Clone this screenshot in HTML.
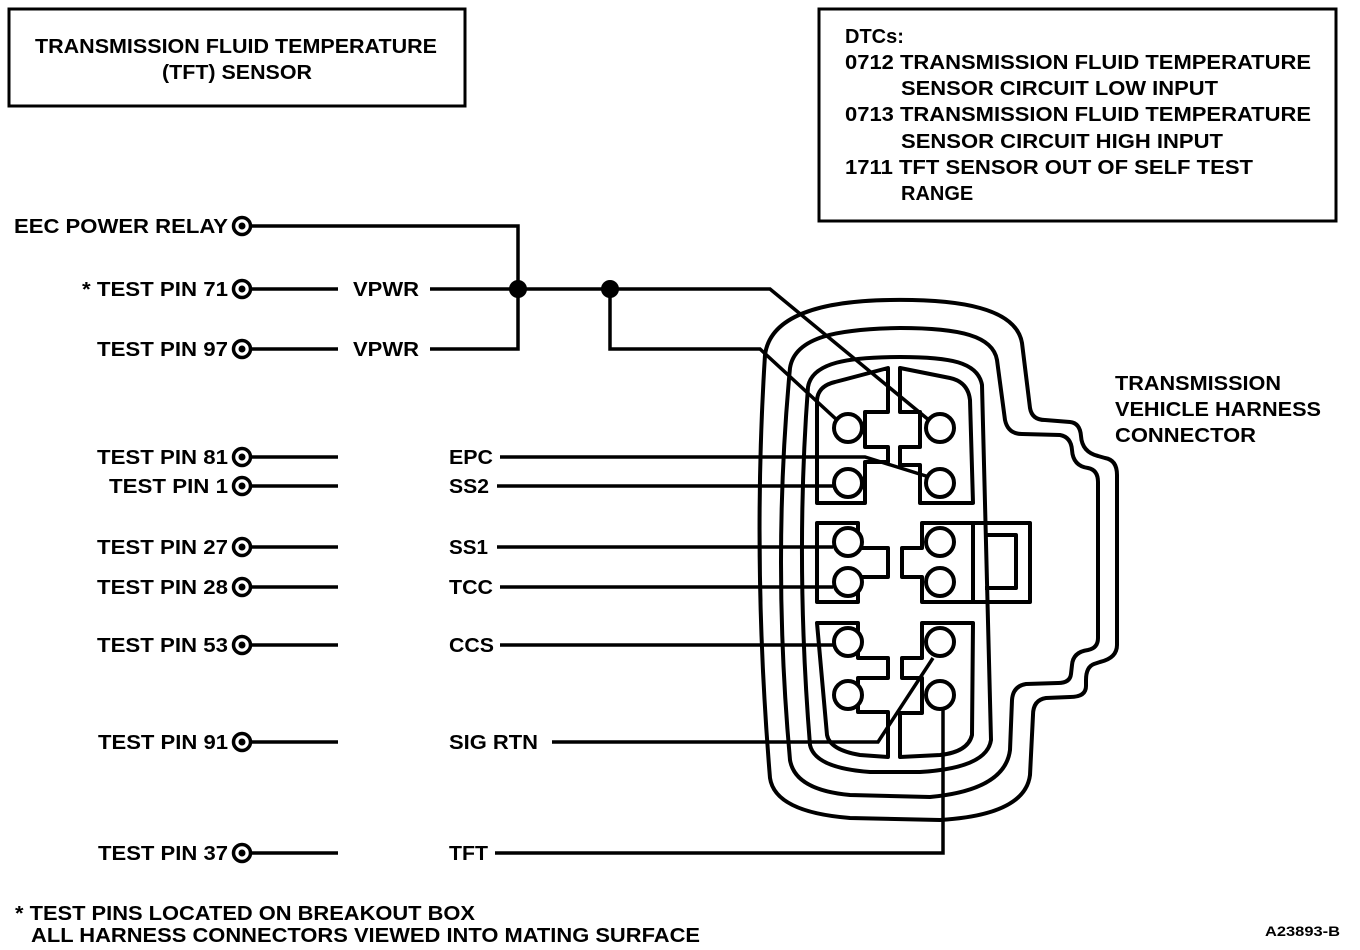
<!DOCTYPE html>
<html><head><meta charset="utf-8"><style>
html,body{margin:0;padding:0;background:#fff;}
svg{display:block;}
text{font-family:"Liberation Sans",Arial,sans-serif;font-weight:bold;fill:#000;}
</style></head><body>
<svg width="1360" height="950" viewBox="0 0 1360 950" xmlns="http://www.w3.org/2000/svg">
<rect width="1360" height="950" fill="#fff"/>
<!-- title box -->
<rect x="9" y="9" width="456" height="97" fill="none" stroke="#000" stroke-width="3"/>
<text x="236" y="53" font-size="20" text-anchor="middle" textLength="402" lengthAdjust="spacingAndGlyphs">TRANSMISSION FLUID TEMPERATURE</text>
<text x="237" y="79" font-size="20" text-anchor="middle" textLength="150" lengthAdjust="spacingAndGlyphs">(TFT) SENSOR</text>
<!-- DTC box -->
<rect x="819" y="9" width="517" height="212" fill="none" stroke="#000" stroke-width="3"/>
<g font-size="20">
<text x="845" y="43">DTCs:</text>
<text x="845" y="69" textLength="466" lengthAdjust="spacingAndGlyphs">0712 TRANSMISSION FLUID TEMPERATURE</text>
<text x="901" y="95" textLength="317" lengthAdjust="spacingAndGlyphs">SENSOR CIRCUIT LOW INPUT</text>
<text x="845" y="121" textLength="466" lengthAdjust="spacingAndGlyphs">0713 TRANSMISSION FLUID TEMPERATURE</text>
<text x="901" y="148" textLength="322" lengthAdjust="spacingAndGlyphs">SENSOR CIRCUIT HIGH INPUT</text>
<text x="845" y="174" textLength="408" lengthAdjust="spacingAndGlyphs">1711 TFT SENSOR OUT OF SELF TEST</text>
<text x="901" y="200">RANGE</text>
</g>
<!-- right label -->
<g font-size="20">
<text x="1115" y="390" textLength="166" lengthAdjust="spacingAndGlyphs">TRANSMISSION</text>
<text x="1115" y="416" textLength="206" lengthAdjust="spacingAndGlyphs">VEHICLE HARNESS</text>
<text x="1115" y="442" textLength="141" lengthAdjust="spacingAndGlyphs">CONNECTOR</text>
</g>
<!-- left labels -->
<g font-size="20" text-anchor="end">
<text x="228" y="233" textLength="214" lengthAdjust="spacingAndGlyphs">EEC POWER RELAY</text>
<text x="228" y="296" textLength="146" lengthAdjust="spacingAndGlyphs">* TEST PIN 71</text>
<text x="228" y="356" textLength="131" lengthAdjust="spacingAndGlyphs">TEST PIN 97</text>
<text x="228" y="464" textLength="131" lengthAdjust="spacingAndGlyphs">TEST PIN 81</text>
<text x="228" y="493" textLength="119" lengthAdjust="spacingAndGlyphs">TEST PIN 1</text>
<text x="228" y="554" textLength="131" lengthAdjust="spacingAndGlyphs">TEST PIN 27</text>
<text x="228" y="594" textLength="131" lengthAdjust="spacingAndGlyphs">TEST PIN 28</text>
<text x="228" y="652" textLength="131" lengthAdjust="spacingAndGlyphs">TEST PIN 53</text>
<text x="228" y="749" textLength="130" lengthAdjust="spacingAndGlyphs">TEST PIN 91</text>
<text x="228" y="860" textLength="130" lengthAdjust="spacingAndGlyphs">TEST PIN 37</text>
</g>
<!-- wire labels -->
<g font-size="20">
<text x="353" y="296" textLength="66" lengthAdjust="spacingAndGlyphs">VPWR</text>
<text x="353" y="356" textLength="66" lengthAdjust="spacingAndGlyphs">VPWR</text>
<text x="449" y="464" textLength="44" lengthAdjust="spacingAndGlyphs">EPC</text>
<text x="449" y="493" textLength="40" lengthAdjust="spacingAndGlyphs">SS2</text>
<text x="449" y="554" textLength="39" lengthAdjust="spacingAndGlyphs">SS1</text>
<text x="449" y="594" textLength="44" lengthAdjust="spacingAndGlyphs">TCC</text>
<text x="449" y="652" textLength="45" lengthAdjust="spacingAndGlyphs">CCS</text>
<text x="449" y="749" textLength="89" lengthAdjust="spacingAndGlyphs">SIG RTN</text>
<text x="449" y="860" textLength="39" lengthAdjust="spacingAndGlyphs">TFT</text>
</g>
<!-- footer -->
<g font-size="20">
<text x="15" y="920" textLength="460" lengthAdjust="spacingAndGlyphs">* TEST PINS LOCATED ON BREAKOUT BOX</text>
<text x="31" y="942" textLength="669" lengthAdjust="spacingAndGlyphs">ALL HARNESS CONNECTORS VIEWED INTO MATING SURFACE</text>
</g>
<text x="1265" y="936" font-size="14" textLength="75" lengthAdjust="spacingAndGlyphs">A23893-B</text>

<!-- pins -->
<g fill="none" stroke="#000" stroke-width="3.5">
<circle cx="242" cy="226" r="8.5"/><circle cx="242" cy="289" r="8.5"/><circle cx="242" cy="349" r="8.5"/>
<circle cx="242" cy="457" r="8.5"/><circle cx="242" cy="486" r="8.5"/><circle cx="242" cy="547" r="8.5"/>
<circle cx="242" cy="587" r="8.5"/><circle cx="242" cy="645" r="8.5"/><circle cx="242" cy="742" r="8.5"/>
<circle cx="242" cy="853" r="8.5"/>
</g>
<g fill="#000">
<circle cx="242" cy="226" r="3.5"/><circle cx="242" cy="289" r="3.5"/><circle cx="242" cy="349" r="3.5"/>
<circle cx="242" cy="457" r="3.5"/><circle cx="242" cy="486" r="3.5"/><circle cx="242" cy="547" r="3.5"/>
<circle cx="242" cy="587" r="3.5"/><circle cx="242" cy="645" r="3.5"/><circle cx="242" cy="742" r="3.5"/>
<circle cx="242" cy="853" r="3.5"/>
<circle cx="518" cy="289" r="9"/><circle cx="610" cy="289" r="9"/>
</g>

<!-- wires -->
<g fill="none" stroke="#000" stroke-width="3.5" stroke-linejoin="miter">
<path d="M251,226 H518 V349 H430"/>
<path d="M251,289 H338 M430,289 H770 L930,421"/>
<path d="M251,349 H338"/>
<path d="M610,289 V349 H760 L837,420"/>
<path d="M251,457 H338 M500,457 H865 L926,476"/>
<path d="M251,486 H338 M497,486 H833"/>
<path d="M251,547 H338 M497,547 H833"/>
<path d="M251,587 H338 M500,587 H833"/>
<path d="M251,645 H338 M500,645 H833"/>
<path d="M251,742 H338 M552,742 H878 L933,658"/>
<path d="M251,853 H338 M495,853 H943 V710"/>
</g>

<!-- connector shells -->
<g fill="none" stroke="#000" stroke-width="4" stroke-linejoin="round">
<path d="M765,355 C770,316 820,301 890,300 C960,299 1016,308 1022,343 L1030,408 Q1032,420 1045,420 L1070,422 Q1080,423 1081,436 Q1082,452 1098,456 L1105,458 Q1117,460 1117,475 L1117,645 Q1117,658 1100,662 L1094,664 Q1086,667 1086,680 L1086,686 Q1086,697 1070,697 L1046,698 Q1033,700 1033,715 L1030,775 Q1025,815 940,820 L850,818 Q775,812 770,778 Q752,560 765,355 Z"/>
<path d="M790,368 C795,336 840,329 900,328 C960,328 993,336 997,360 L1005,420 Q1008,434 1022,434 L1060,435 Q1071,437 1072,450 Q1073,466 1088,468 Q1098,470 1098,482 L1098,638 Q1098,648 1088,650 Q1073,652 1072,665 L1071,674 Q1070,683 1058,683 L1026,684 Q1013,686 1012,700 L1010,750 Q1005,790 930,797 L850,795 Q795,790 790,760 Q772,560 790,368 Z"/>
<path d="M808,387 C812,362 850,357 900,357 C950,357 978,362 982,385 L991,740 Q987,768 920,772 L870,772 Q815,768 810,745 Q795,560 808,387 Z"/>
<!-- blocks -->
<path d="M817,503 L817,400 Q818,386 835,382 L888,368 L888,412 L865,412 L865,447 L888,447 L888,462 L865,462 L865,503 Z"/>
<path d="M900,368 L950,378 Q968,382 970,400 L973,503 L920,503 L920,465 L900,465 L900,447 L920,447 L920,412 L900,412 Z"/>
<path d="M817,523 L858,523 L858,548 L888,548 L888,577 L858,577 L858,602 L817,602 Z"/>
<path d="M922,523 L973,523 L973,602 L922,602 L922,577 L902,577 L902,548 L922,548 Z"/>
<path d="M817,623 L858,623 L858,658 L888,658 L888,678 L858,678 L858,712 L888,712 L888,757 L860,755 Q830,750 827,735 Z"/>
<path d="M922,623 L973,623 L972,735 Q968,752 940,755 L900,757 L900,713 L922,713 L922,678 L902,678 L902,658 L922,658 Z"/>
<!-- latch -->
<path d="M973,523 H1030 V602 H973"/>
<path d="M985,535 H1016 V588 H985"/>
</g>
<!-- pin cavities -->
<g fill="#fff" stroke="#000" stroke-width="4">
<circle cx="848" cy="428" r="14"/><circle cx="848" cy="483" r="14"/>
<circle cx="940" cy="428" r="14"/><circle cx="940" cy="483" r="14"/>
<circle cx="848" cy="542" r="14"/><circle cx="848" cy="582" r="14"/>
<circle cx="940" cy="542" r="14"/><circle cx="940" cy="582" r="14"/>
<circle cx="848" cy="642" r="14"/><circle cx="848" cy="695" r="14"/>
<circle cx="940" cy="642" r="14"/><circle cx="940" cy="695" r="14"/>
</g>
</svg>
</body></html>
